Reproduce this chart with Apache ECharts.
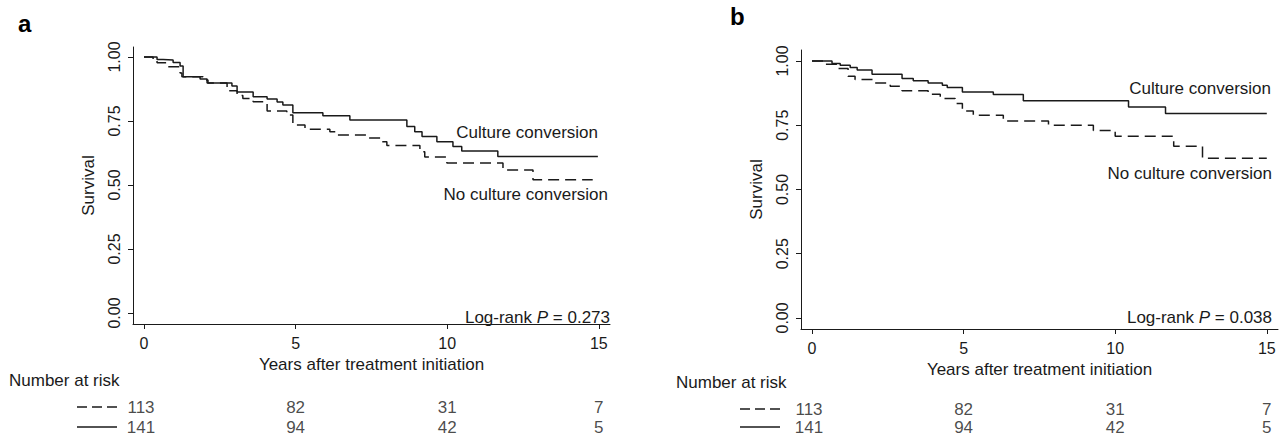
<!DOCTYPE html>
<html><head><meta charset="utf-8">
<script src="https://cdn.jsdelivr.net/npm/echarts@6/dist/echarts.min.js"></script>
<style>html,body{margin:0;padding:0;background:#fff}#c{width:1288px;height:437px}</style>
</head><body><div id="c"></div>
<script>
// ---- data ----
const ticksX = [0, 5, 10, 15];
const ticksY = [0, 0.25, 0.5, 0.75, 1];

const aConvT = [0,0.43,0.63,0.96,1.19,1.29,1.85,2.08,2.9,3.07,3.6,4.06,4.39,4.58,4.91,5.9,6.79,8.67,8.93,9.17,9.66,10.19,10.48,11.67,14.97];
const aConvS = [1,0.99,0.988,0.978,0.965,0.923,0.914,0.898,0.887,0.863,0.845,0.836,0.824,0.812,0.782,0.770,0.754,0.728,0.708,0.689,0.669,0.650,0.633,0.611,0.611];
const aNoT = [0,0.3,0.43,0.76,1.19,1.25,1.95,2.11,2.74,3.07,3.26,3.6,4.06,4.71,4.91,5.31,6.13,6.36,7.35,7.85,8.01,9.1,9.26,9.99,11.84,12.83,14.8];
const aNoS = [1,0.991,0.977,0.962,0.937,0.923,0.91,0.898,0.868,0.85,0.838,0.825,0.789,0.773,0.734,0.718,0.708,0.695,0.684,0.669,0.654,0.63,0.609,0.586,0.559,0.52,0.52];

const bConvT = [0,0.66,0.93,1.26,1.49,1.98,2.97,3.34,3.83,4.3,4.46,4.96,5.98,6.97,10.44,11.66,15.0];
const bConvS = [1,0.99,0.984,0.975,0.965,0.949,0.932,0.923,0.915,0.906,0.897,0.88,0.87,0.845,0.821,0.796,0.796];
const bNoT = [0,0.43,0.86,1.19,1.42,2.01,2.58,2.97,3.83,4.23,4.72,4.96,5.32,6.31,7.8,9.28,10.0,11.93,12.88,15.0];
const bNoS = [1,0.988,0.971,0.941,0.928,0.915,0.902,0.884,0.871,0.854,0.835,0.806,0.789,0.767,0.75,0.73,0.707,0.668,0.622,0.622];

const riskT = [0, 5, 10, 15];
const aRiskNo = [113, 82, 31, 7];
const aRiskConv = [141, 94, 42, 5];
const bRiskNo = [113, 82, 31, 7];
const bRiskConv = [141, 94, 42, 5];

const pA = '0.273', pB = '0.038';

// ---- chart ----
const FONT = 'Liberation Sans, Arial, sans-serif';
const INK = '#1a1a1a';
const FS = 17, TFS = 16;
const zip = (t, s) => t.map((v, i) => [v, s[i]]);

const chart = echarts.init(document.getElementById('c'), null, {renderer: 'svg', width: 1288, height: 437});

function xAx(gi, name, gap, show) {
  return {
    type: 'value', gridIndex: gi, min: -0.363, max: 15.37,
    show: show,
    name: name, nameLocation: 'middle', nameGap: gap,
    nameTextStyle: {color: INK, fontSize: FS, fontFamily: FONT},
    axisLine: {onZero: false, lineStyle: {color: INK, width: 1}},
    axisTick: {customValues: ticksX, length: 5, lineStyle: {color: INK}},
    axisLabel: {customValues: ticksX, margin: 11, color: INK, fontSize: TFS, fontFamily: FONT},
    splitLine: {show: false}
  };
}
function yAx(gi, min, max) {
  return {
    type: 'value', gridIndex: gi, min: min, max: max,
    name: 'Survival', nameLocation: 'middle', nameGap: 36, nameRotate: 90,
    nameTextStyle: {color: INK, fontSize: FS, fontFamily: FONT},
    axisLine: {onZero: false, lineStyle: {color: INK, width: 1}},
    axisTick: {customValues: ticksY, length: 5, lineStyle: {color: INK}},
    axisLabel: {customValues: ticksY, rotate: 90, margin: 11, color: INK, fontSize: TFS, fontFamily: FONT,
      formatter: v => v.toFixed(2)},
    splitLine: {show: false}
  };
}
function riskY(gi) {
  return {type: 'value', gridIndex: gi, min: 0, max: 1, show: false};
}
function kmLine(xi, t, s, dashed) {
  return {
    type: 'line', xAxisIndex: xi, yAxisIndex: xi, step: 'end', showSymbol: false, silent: true,
    data: zip(t, s),
    lineStyle: {color: INK, width: 1.5, type: dashed ? [11, 6] : 'solid'}
  };
}
function riskRow(xi, vals, row) {
  return {
    type: 'scatter', xAxisIndex: xi, yAxisIndex: xi, symbolSize: 0, silent: true,
    data: riskT.map((t, i) => ({value: [t, row, vals[i]],
      label: i === 0 ? {offset: [-3, 0]} : {}})),
    label: {show: true, position: 'inside', formatter: p => String(p.value[2]),
      color: INK, fontSize: FS, lineHeight: 13, fontFamily: FONT}
  };
}

const logRich = {n: {fontSize: FS, fontFamily: FONT, fill: INK}, i: {fontSize: FS, fontFamily: FONT, fontStyle: 'italic', fill: INK}};
function txt(x, y, s, align) {
  return {type: 'text', x: x, y: y, style: {text: s, fill: INK, font: FS + 'px ' + FONT, align: align || 'left', verticalAlign: 'middle'}};
}

chart.setOption({
  animation: false,
  grid: [
    {left: 133, top: 47, width: 477, height: 277},
    {left: 801, top: 50, width: 477, height: 279},
    {left: 133, top: 407, width: 477, height: 20},
    {left: 801, top: 409, width: 477, height: 18}
  ],
  xAxis: [
    xAx(0, 'Years after treatment initiation', 30, true),
    xAx(1, 'Years after treatment initiation', 29, true),
    xAx(2, '', 0, false),
    xAx(3, '', 0, false)
  ],
  yAxis: [yAx(0, -0.043, 1.039), yAx(1, -0.043, 1.043), riskY(2), riskY(3)],
  series: [
    kmLine(0, aNoT, aNoS, true),
    kmLine(0, aConvT, aConvS, false),
    kmLine(1, bNoT, bNoS, true),
    kmLine(1, bConvT, bConvS, false),
    riskRow(2, aRiskNo, 1), riskRow(2, aRiskConv, 0),
    riskRow(3, bRiskNo, 1), riskRow(3, bRiskConv, 0)
  ],
  graphic: [
    {type: 'text', left: 18, top: 11, style: {text: 'a', fill: '#000', font: 'bold 24px ' + FONT}},
    {type: 'text', left: 730, top: 4, style: {text: 'b', fill: '#000', font: 'bold 24px ' + FONT}},
    txt(598, 132, 'Culture conversion', 'right'),
    txt(608, 194, 'No culture conversion', 'right'),
    txt(1271, 88, 'Culture conversion', 'right'),
    txt(1272, 173, 'No culture conversion', 'right'),
    {type: 'text', x: 610, y: 317, style: {text: '{n|Log-rank }{i|P}{n| = ' + pA + '}', rich: logRich, fill: INK, align: 'right', verticalAlign: 'middle'}},
    {type: 'text', x: 1272, y: 317, style: {text: '{n|Log-rank }{i|P}{n| = ' + pB + '}', rich: logRich, fill: INK, align: 'right', verticalAlign: 'middle'}},
    txt(9, 380, 'Number at risk'),
    txt(676, 382, 'Number at risk'),
    {type: 'line', shape: {x1: 77, y1: 407, x2: 117, y2: 407}, style: {stroke: INK, lineWidth: 1.3, lineDash: [10, 5]}},
    {type: 'line', shape: {x1: 77, y1: 427, x2: 117, y2: 427}, style: {stroke: INK, lineWidth: 1.3}},
    {type: 'line', shape: {x1: 740, y1: 409, x2: 780, y2: 409}, style: {stroke: INK, lineWidth: 1.3, lineDash: [10, 5]}},
    {type: 'line', shape: {x1: 740, y1: 427, x2: 780, y2: 427}, style: {stroke: INK, lineWidth: 1.3}}
  ]
});
</script></body></html>
